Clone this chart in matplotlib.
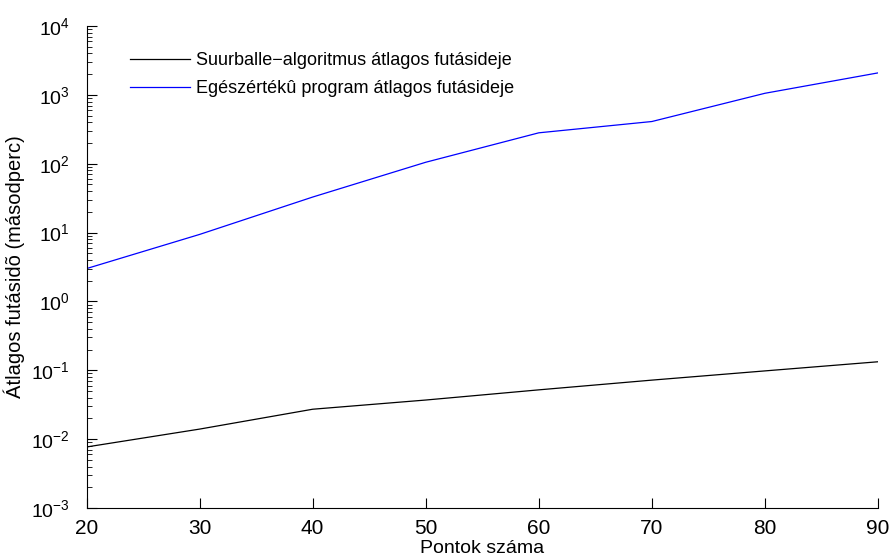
import matplotlib

matplotlib.use("Agg")
import matplotlib.pyplot as plt
from matplotlib.ticker import LogLocator, NullFormatter

plt.rcParams["font.family"] = ["Liberation Sans", "DejaVu Sans"]
plt.rcParams["mathtext.default"] = "regular"

points = [20, 30, 40, 50, 60, 70, 80, 90]
suurballe_sec = [0.0077, 0.0140, 0.0272, 0.0370, 0.0520, 0.0720, 0.0980, 0.1330]
integer_prog_sec = [3.0, 9.4, 32.8, 105, 281, 410, 1054, 2084]

labels = [
    "Suurballe\u2212algoritmus átlagos futásideje",
    "Egészértékû program átlagos futásideje",
]

fig = plt.figure(figsize=(8.93, 5.59), dpi=100)
ax = fig.add_axes([0.0969, 0.0912, 0.8863, 0.8623])

ax.plot(points, suurballe_sec, color="black", lw=0.9, label=labels[0])
ax.plot(points, integer_prog_sec, color="blue", lw=0.9, label=labels[1])

ax.set_yscale("log")
ax.set_xlim(20, 90)
ax.set_ylim(1e-3, 1e4)
ax.set_xticks(points)
ax.yaxis.set_major_locator(LogLocator(base=10, numticks=20))
ax.yaxis.set_minor_locator(LogLocator(base=10, subs=range(2, 10), numticks=20))
ax.yaxis.set_minor_formatter(NullFormatter())

for side in ("top", "right"):
    ax.spines[side].set_visible(False)
for side in ("left", "bottom"):
    ax.spines[side].set_linewidth(0.8)

ax.tick_params(which="major", direction="in", length=7, width=0.8)
ax.tick_params(which="minor", direction="in", length=3.5, width=0.6)
ax.tick_params(axis="x", which="major", labelsize=15, pad=8)
ax.tick_params(axis="y", which="major", labelsize=14, pad=12)

ax.set_xlabel("Pontok száma", fontsize=14, labelpad=1)
ax.set_ylabel("Átlagos futásidõ (másodperc)", fontsize=14.5, labelpad=4)

ax.legend(
    loc="upper left",
    bbox_to_anchor=(0.035, 0.979),
    frameon=False,
    fontsize=13,
    handlelength=3.3,
    handletextpad=0.35,
    labelspacing=0.6,
)

fig.savefig("out.png", dpi=100)
